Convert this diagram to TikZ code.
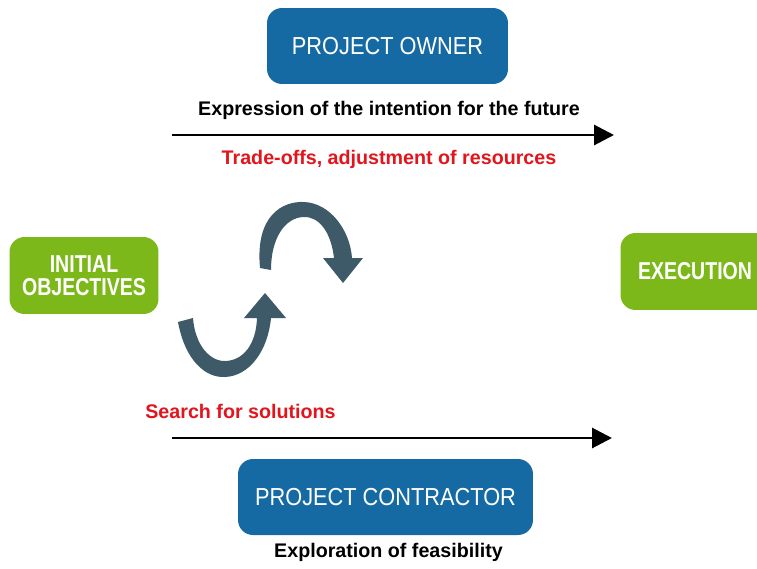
\documentclass[tikz,border=0pt]{standalone}
\usepackage{fontspec}
\setmainfont{Liberation Sans}
\usetikzlibrary{arrows.meta}

\definecolor{ownerblue}{RGB}{22,106,164}
\definecolor{stagegreen}{RGB}{125,184,26}
\definecolor{loopgrey}{RGB}{62,90,104}
\definecolor{notered}{RGB}{226,20,28}

% condensed caption text for the boxes
\newcommand{\rolename}[1]{\scalebox{0.885}[1]{#1}}
\newcommand{\stagename}[1]{\scalebox{0.8}[1]{#1}}

\begin{document}
\begin{tikzpicture}[x=0.02cm,y=-0.02cm,
		role node/.style={rectangle,rounded corners=0.3cm,fill=ownerblue,text=white,
			minimum height=1.52cm,font=\fontsize{14}{16}\selectfont},
		stage node/.style={rectangle,rounded corners=0.3cm,fill=stagegreen,text=white,
			minimum width=2.98cm,minimum height=1.54cm,align=center,
			font=\bfseries\fontsize{13.9}{13.1}\selectfont},
		dark note/.style={font=\bfseries\fontsize{11.2}{13}\selectfont},
		red note/.style={dark note,text=notered},
		flow/.style={-{Triangle[length=0.4cm,width=0.4cm]},line width=1.7pt},
		loop/.style={fill=loopgrey}]
		\useasboundingbox (0,0) rectangle (757,568);

		% the two parties and the two stages
		\node[role node,minimum width=4.82cm] (owner) at (387.5,46) {\rolename{PROJECT OWNER}};
		\node[role node,minimum width=5.9cm] (contractor) at (385.5,497) {\rolename{PROJECT CONTRACTOR}};
		\node[stage node] (initial) at (84,275.5) {\stagename{INITIAL}\\\stagename{OBJECTIVES}};
		\node[stage node] (execution) at (695,271.5) {\stagename{EXECUTION}};

		% labels around the time lines
		\node[dark note] (intention) at (389,110) {Expression of the intention for the future};
		\node[red note] (tradeoffs) at (389,159) {Trade-offs, adjustment of resources};
		\node[red note] (search) at (240.5,411) {Search for solutions};
		\node[dark note] (feasibility) at (388.5,552) {Exploration of feasibility};

		\coordinate (top start) at (172,135);
		\coordinate (top end) at (614,135);
		\coordinate (low start) at (172,438);
		\coordinate (low end) at (612,438);
		\draw[flow] (top start) -- (top end);
		\draw[flow] (low start) -- (low end);

		% upper loop arrow
		\fill[loop] (260,268) .. controls (255,215) and (283,201) .. (304,202)
			.. controls (330,203) and (350,230) .. (352,258)
			-- (363,258) -- (343,283) -- (323,258) -- (334,258)
			.. controls (331,232) and (319,216) .. (303,217)
			.. controls (285,218) and (271,238) .. (271,270) -- cycle;
		% lower loop arrow
		\fill[loop] (178,322) .. controls (185,360) and (205,378) .. (225,377)
			.. controls (250,376) and (268,350) .. (271,318)
			-- (286,318) -- (265,293) -- (244,318) -- (257,318)
			.. controls (256,345) and (243,360) .. (226,361)
			.. controls (210,362) and (195,345) .. (193,318) -- cycle;
\end{tikzpicture}
\end{document}
